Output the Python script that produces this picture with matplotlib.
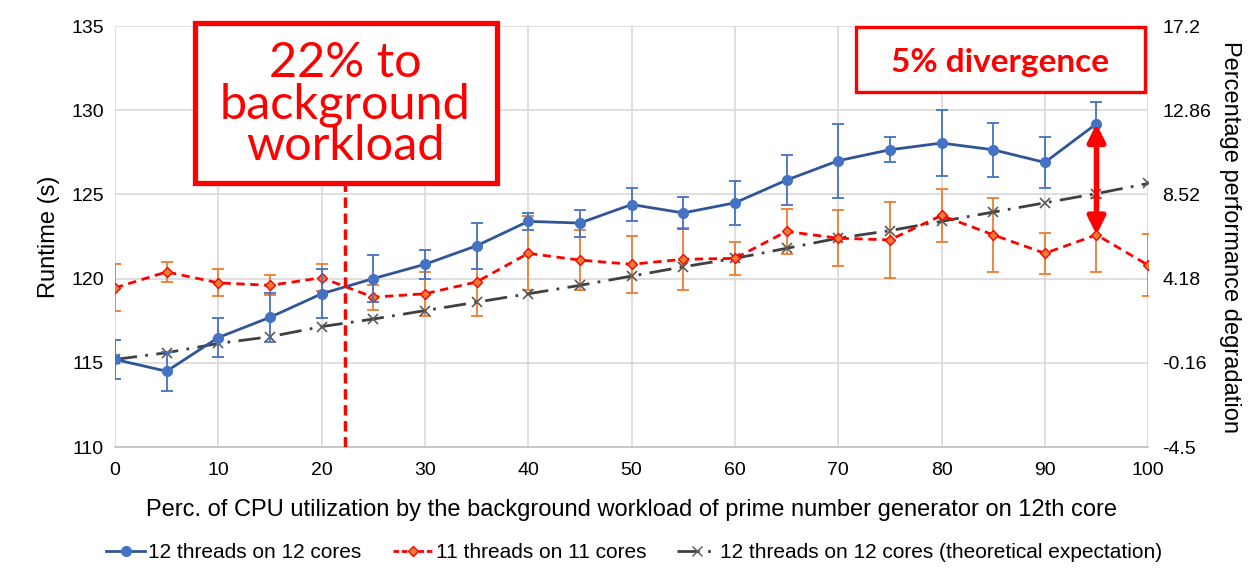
import matplotlib
matplotlib.use("Agg")
import matplotlib.pyplot as plt
from matplotlib.lines import Line2D
from matplotlib.patches import Rectangle

plt.rcParams['font.family'] = ['Liberation Sans', 'DejaVu Sans']

# CPU share taken by the background prime generator (%)
util = [0, 5, 10, 15, 20, 25, 30, 35, 40, 45, 50, 55, 60, 65, 70, 75, 80, 85, 90, 95, 100]

# 12 threads on 12 cores (measured)
rt12 = [115.2, 114.5, 116.5, 117.7, 119.1, 120.0, 120.85, 121.95, 123.4, 123.3, 124.4,
        123.9, 124.5, 125.85, 127.0, 127.65, 128.05, 127.65, 126.9, 129.2]
err12 = [1.15, 1.15, 1.15, 1.45, 1.45, 1.4, 0.85, 1.35, 0.5, 0.8, 1.0,
         0.95, 1.3, 1.5, 2.2, 0.75, 1.95, 1.6, 1.5, 1.3]

# 11 threads on 11 cores
rt11 = [119.45, 120.4, 119.75, 119.6, 120.05, 118.9, 119.1, 119.8, 121.5, 121.1, 120.85,
        121.15, 121.2, 122.8, 122.4, 122.3, 123.75, 122.6, 121.5, 122.6, 120.8]
err11 = [1.4, 0.6, 0.8, 0.6, 0.8, 0.75, 1.3, 2.0, 2.2, 1.8, 1.7,
         1.85, 1.0, 1.35, 1.65, 2.25, 1.6, 2.2, 1.2, 2.2, 1.85]

# 12 threads on 12 cores, theoretical expectation
rt_theory = [115.2, 115.6, 116.15, 116.55, 117.15, 117.6, 118.1, 118.6, 119.1, 119.6, 120.15,
             120.7, 121.2, 121.8, 122.4, 122.85, 123.4, 123.95, 124.5, 125.05, 125.65]

right_ticks = [-4.5, -0.16, 4.18, 8.52, 12.86, 17.2]
right_labels = ['-4.5', '-0.16', '4.18', '8.52', '12.86', '17.2']

fig = plt.figure(figsize=(12.48, 5.78), dpi=100)
ax = fig.add_axes([0.0921, 0.2266, 0.8279, 0.7284])

blue_line = '#2F5597'
blue = '#4472C4'
orange = '#ED7D31'
red = '#FF0000'
grey = '#404040'

theory_ls = (0, (8, 3, 1, 3))

ax.errorbar(util[:len(rt12)], rt12, yerr=err12, color=blue_line, lw=2, marker='o', ms=7,
            mfc=blue, mec=blue, ecolor=blue, elinewidth=1.3, capsize=4, capthick=1.3, zorder=4)
ax.errorbar(util, rt11, yerr=err11, color=red, lw=2, ls=(0, (3, 2)), marker='D', ms=5,
            mfc=orange, mec=red, ecolor=orange, elinewidth=1.3, capsize=4, capthick=1.3, zorder=3)
ax.plot(util, rt_theory, color=grey, lw=2, ls=theory_ls, marker='x', ms=7,
        mec='#595959', mew=1.2, zorder=3)

ax.set_xlim(0, 100)
ax.set_ylim(110, 135)
ax.set_xticks(range(0, 101, 10))
ax.set_yticks(range(110, 136, 5))
ax.grid(True, color='#D9D9D9', lw=1.2)
ax.set_axisbelow(True)
for s in ['top', 'right', 'left']:
    ax.spines[s].set_visible(False)
ax.spines['bottom'].set_color('#BFBFBF')
ax.spines['bottom'].set_linewidth(1.2)
ax.tick_params(axis='x', length=0, labelsize=14, pad=11)
ax.tick_params(axis='y', length=0, labelsize=14, pad=8)
ax.set_ylabel('Runtime (s)', fontsize=17, labelpad=8)
ax.set_xlabel('Perc. of CPU utilization by the background workload of prime number generator on 12th core',
              fontsize=17, labelpad=14)

ax2 = ax.twinx()
ax2.set_ylim(right_ticks[0], right_ticks[-1])
ax2.set_yticks(right_ticks)
ax2.set_yticklabels(right_labels)
ax2.tick_params(length=0, labelsize=14, pad=10)
for s in ax2.spines.values():
    s.set_visible(False)
ax2.set_ylabel('Percentage performance degradation', fontsize=17, rotation=270, labelpad=22)

# the 22% crossover marker
ax.plot([22.3, 22.3], [110, 125.6], color=red, lw=2.5, ls=(0, (3, 1.6)), zorder=5)
ax.add_patch(Rectangle((7.75, 125.65), 29.2, 9.5, fc='white', ec=red, lw=3.8,
                       clip_on=False, zorder=6))
ax.text(22.3, 130.35, '22% to\nbackground\nworkload', ha='center', va='center', color=red,
        fontsize=35, family=['Lato', 'DejaVu Sans'], linespacing=0.93, zorder=7)

# gap between measured and 11-core curve at 95%
ax.annotate('', xy=(95, rt11[19]), xytext=(95, rt12[19]),
            arrowprops=dict(arrowstyle='<|-|>', color=red, lw=4, mutation_scale=26,
                            shrinkA=0, shrinkB=0), zorder=8)
ax.add_patch(Rectangle((71.7, 131.1), 28.0, 3.85, fc='white', ec=red, lw=2.4,
                       clip_on=False, zorder=6))
ax.text(85.7, 132.85, '5% divergence', ha='center', va='center', color=red, fontsize=24,
        fontweight='bold', family=['Lato', 'DejaVu Sans'], zorder=7)

handles = [
    Line2D([], [], color=blue_line, lw=2, marker='o', ms=7, mfc=blue, mec=blue),
    Line2D([], [], color=red, lw=2, ls=(0, (2, 1)), marker='D', ms=5, mfc=orange, mec=red),
    Line2D([], [], color=grey, lw=2, ls=theory_ls, marker='x', ms=7, mec='#595959'),
]
labels = ['12 threads on 12 cores', '11 threads on 11 cores',
          '12 threads on 12 cores (theoretical expectation)']
fig.legend(handles, labels, loc='center', bbox_to_anchor=(0.508, 1 - 553 / 578), ncol=3,
           frameon=False, fontsize=15, handlelength=1.9, columnspacing=1.5, handletextpad=0.15)

fig.savefig('out.png', dpi=100)
